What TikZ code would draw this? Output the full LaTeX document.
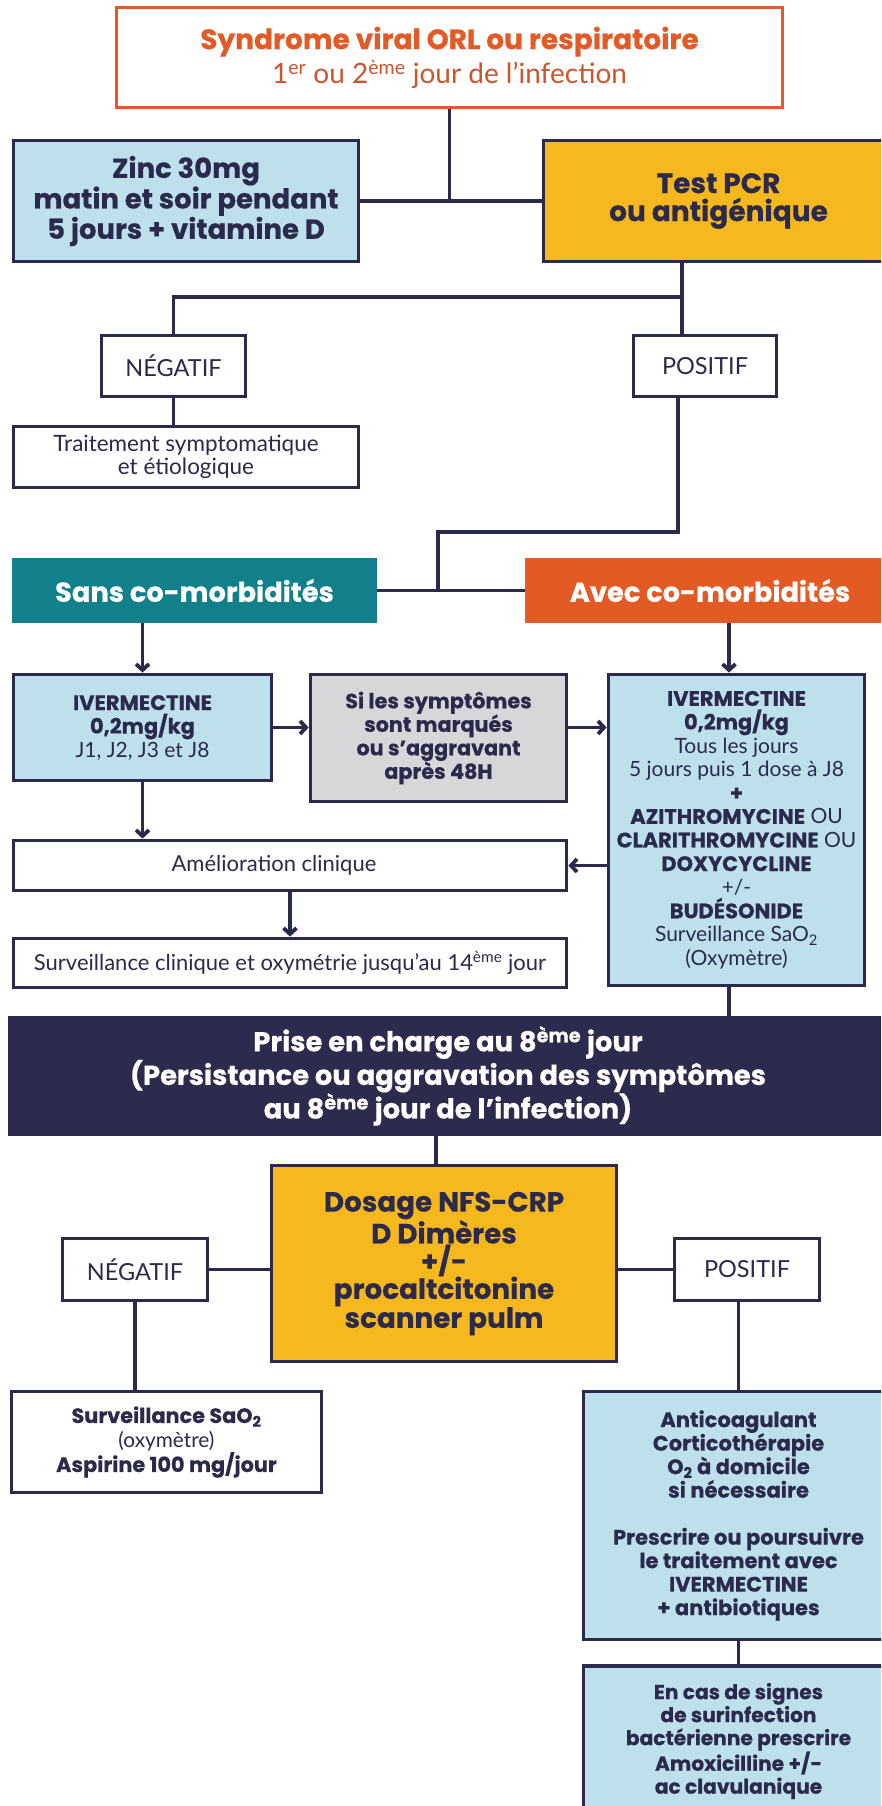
\documentclass[tikz,border=0pt]{standalone}
\usepackage{fontspec}
\setmainfont{Lato}
\newfontfamily\pop{Poppins}[BoldFeatures={FakeBold=0.5}]
\usetikzlibrary{arrows.meta}
\definecolor{navy}{HTML}{2C2A4A}
\definecolor{orng}{HTML}{E35A25}
\definecolor{orngd}{HTML}{C9562E}
\definecolor{gold}{HTML}{F6B81F}
\definecolor{lblue}{HTML}{BEE0EC}
\definecolor{teal}{HTML}{11808A}
\definecolor{lgray}{HTML}{D6D7D9}
\definecolor{dnavy}{HTML}{2D2B4D}
\newcommand{\B}[1]{{\pop\bfseries #1}}
\begin{document}
\begin{tikzpicture}[x=1pt,y=-1pt,
  bx/.style={draw=navy,line width=3.8pt,align=center,inner sep=0pt,text=navy},
  ln/.style={draw=navy,line width=3.8pt},
  arr/.style={draw=navy,line width=3.8pt,-{Straight Barb[length=6pt,width=13pt]}},
  ]
\clip (0,0) rectangle (881,1806);
\fill[white] (0,0) rectangle (881,1806);

% top
\node[bx,draw=orng,fill=white,minimum width=666pt,minimum height=100pt,font=\fontsize{28}{34}\selectfont] (top) at (449.5,57.5)
 {\B{\color{orng}Syndrome viral ORL ou respiratoire}\\{\color{orngd}1\textsuperscript{er} ou 2\textsuperscript{ème} jour de l’infection}};
\node[bx,fill=lblue,minimum width=345pt,minimum height=121pt,font=\fontsize{27.5}{26}\selectfont\pop\bfseries] (zinc) at (186,201)
 {Zinc 30mg\\matin et soir pendant\\5 jours + vitamine D};
\node[bx,fill=gold,minimum width=350pt,minimum height=121pt,font=\fontsize{28}{28}\selectfont\pop\bfseries] (test) at (718.5,201)
 {Test PCR\\ou antigénique};
\draw[ln] (top.south) -- (top.south |- zinc.east);
\draw[ln] (zinc.east) -- (test.west);

% first negatif / positif
\node[bx,fill=white,minimum width=144pt,minimum height=61pt,font=\fontsize{23.5}{26}\selectfont] (neg1) at (173.5,366) {NÉGATIF};
\node[bx,fill=white,minimum width=143pt,minimum height=61pt,font=\fontsize{23.5}{26}\selectfont] (pos1) at (705,366) {POSITIF};
\node[bx,fill=white,minimum width=345pt,minimum height=61pt,font=\fontsize{22.5}{23}\selectfont] (trait) at (186,457)
 {Traitement symptomatique\\et étiologique};
\coordinate (j1) at (682,297);
\draw[ln] (test.south -| j1) -- (pos1.north -| j1);
\draw[ln] (j1) -- (j1 -| neg1.north) -- (neg1.north);
\draw[ln] (neg1.south) -- (trait.north -| neg1.south);

% comorbidites
\node[fill=teal,text=white,inner sep=0pt,minimum width=365pt,minimum height=65pt,font=\fontsize{27.3}{28}\selectfont\pop\bfseries] (sans) at (194.5,590.5) {Sans co-morbidités};
\node[fill=orng,text=white,inner sep=0pt,minimum width=370pt,minimum height=65pt,font=\fontsize{27.3}{28}\selectfont\pop\bfseries] (avec) at (710,590.5) {Avec co-morbidités};
\coordinate (j2) at (678,532);
\coordinate (j3) at (438,532);
\draw[ln] (pos1.south -| j2) -- (j2) -- (j3) -- (j3 |- sans.east);
\draw[ln] (sans.east) -- (avec.west);

% treatment row
\coordinate (cr) at (729,0);
\node[bx,fill=lblue,minimum width=258pt,minimum height=106pt,font=\fontsize{21}{23.5}\selectfont] (iv1) at (142.5,727.5)
 {\B{IVERMECTINE}\\\B{0,2mg/kg}\\J1, J2, J3 et J8};
\node[bx,fill=lgray,minimum width=256pt,minimum height=127pt,font=\fontsize{20.7}{23.5}\selectfont\pop\bfseries] (gray) at (438.5,738)
 {Si les symptômes\\sont marqués\\ou s’aggravant\\après 48H};
\node[bx,fill=lblue,minimum width=256pt,minimum height=311pt,font=\fontsize{21}{23.6}\selectfont] (iv2) at (736.5,830)
 {\B{IVERMECTINE}\\\B{0,2mg/kg}\\Tous les jours\\5 jours puis 1 dose à J8\\\B{+}\\\B{AZITHROMYCINE} OU\\\B{CLARITHROMYCINE} OU\\\B{DOXYCYCLINE}\\+/-\\\B{BUDÉSONIDE}\\Surveillance SaO\textsubscript{2}\\(Oxymètre)};
\draw[arr] (sans.south -| iv1.north) -- (iv1.north);
\draw[arr] (avec.south -| cr) -- (iv2.north -| cr);
\draw[arr] (iv1.east) -- (iv1.east -| gray.west);
\draw[arr] (gray.east |- iv1.east) -- (iv2.west |- iv1.east);

\node[bx,fill=white,minimum width=553pt,minimum height=50pt,font=\fontsize{22}{23}\selectfont] (amel) at (290,865.5) {Amélioration clinique\hspace*{32pt}};
\node[bx,fill=white,minimum width=553pt,minimum height=49pt,font=\fontsize{22}{23}\selectfont] (surv) at (290,963)
 {Surveillance clinique et oxymétrie jusqu’au 14\textsuperscript{ème} jour};
\draw[arr] (iv1.south) -- (amel.north -| iv1.south);
\draw[arr] (iv2.west |- amel.east) -- (amel.east);
\draw[arr] (amel.south) -- (surv.north);

% prise en charge
\node[fill=dnavy,text=white,align=center,inner sep=0pt,minimum width=880pt,minimum height=120pt,font=\fontsize{27.4}{27}\selectfont\pop\bfseries] (prise) at (448,1076)
 {Prise en charge au 8\textsuperscript{ème} jour\\(Persistance ou aggravation des symptômes\\au 8\textsuperscript{ème} jour de l’infection)};
\draw[ln] (iv2.south -| cr) -- (prise.north -| cr);

\coordinate (cd) at (436,0);
\node[bx,fill=gold,minimum width=345pt,minimum height=196pt,font=\fontsize{27.8}{27.7}\selectfont\pop\bfseries] (dos) at (444,1263.5)
 {Dosage NFS-CRP\\D Dimères\\+/-\\procaltcitonine\\scanner pulm};
\draw[ln] (prise.south -| cd) -- (dos.north -| cd);
\node[bx,fill=white,minimum width=145pt,minimum height=62pt,font=\fontsize{23.5}{26}\selectfont] (neg2) at (135,1269.5) {NÉGATIF};
\node[bx,fill=white,minimum width=145pt,minimum height=62pt,font=\fontsize{23.5}{26}\selectfont] (pos2) at (747,1269.5) {POSITIF};
\draw[ln] (neg2.east) -- (dos.west |- neg2.east);
\draw[ln] (dos.east |- pos2.west) -- (pos2.west);

\node[bx,fill=white,minimum width=310pt,minimum height=101pt,font=\fontsize{20.8}{24.5}\selectfont] (sao2) at (166.5,1442)
 {\B{Surveillance SaO\textsubscript{2}}\\(oxymètre)\\\B{Aspirine 100 mg/jour}};
\node[bx,fill=lblue,minimum width=310pt,minimum height=248pt,font=\fontsize{21}{23.5}\selectfont\pop\bfseries] (anti) at (738.5,1515.5)
 {Anticoagulant\\Corticothérapie\\O\textsubscript{2} à domicile\\si nécessaire\\[23.5pt]Prescrire ou poursuivre\\le traitement avec\\IVERMECTINE\\+ antibiotiques};
\node[bx,fill=lblue,minimum width=310pt,minimum height=150pt,font=\fontsize{20.2}{23}\selectfont\pop\bfseries] (encas) at (738.5,1741)
 {En cas de signes\\de surinfection\\bactérienne prescrire\\Amoxicilline +/-\\ac clavulanique};
\draw[ln] (neg2.south) -- (sao2.north -| neg2.south);
\draw[ln] (pos2.south -| anti.north) -- (anti.north);
\draw[ln] (anti.south) -- (encas.north);
\end{tikzpicture}
\end{document}
